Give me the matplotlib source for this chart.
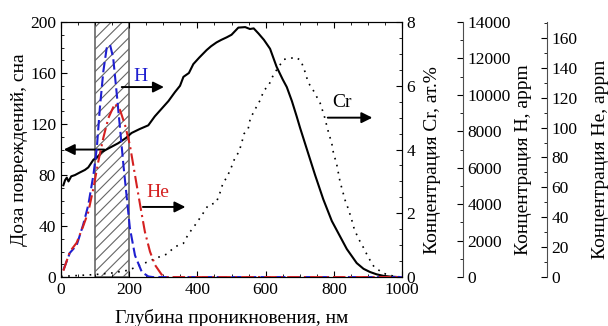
import matplotlib
matplotlib.use("Agg")
import matplotlib.pyplot as plt
from matplotlib.ticker import MultipleLocator

plt.rcParams['font.family'] = ['Liberation Serif', 'DejaVu Serif']
plt.rcParams['font.size'] = 12.5
plt.rcParams['hatch.linewidth'] = 0.8

# доза повреждений (сна), левая ось
x_dose = [7, 12, 17, 22, 30, 41, 55, 70, 80, 95, 110, 119, 140, 168, 190, 207, 230, 256,
          275, 295, 315, 334, 349, 359, 375, 388, 405, 427, 440, 456, 470, 486, 500, 520,
          540, 554, 565, 579, 595, 613, 632, 650, 662, 677, 691, 701, 720, 745, 769, 794,
          818, 838, 867, 887, 906, 925, 945, 965, 990]
dose = [72, 76, 78, 75, 79, 80, 82, 84, 86, 92, 95, 98, 101, 105, 109, 113, 116, 119,
        126, 132, 138, 145, 150, 157, 160, 167, 172, 178, 181, 184, 186, 188, 190, 195.6,
        196, 194.5, 195, 191, 186, 179, 165, 155, 149, 138, 126, 117, 101, 80, 61, 44,
        32, 22, 11, 6.5, 4, 2.2, 1, 0.4, 0]

# концентрация Cr, ат.%
x_cr = [0, 50, 100, 150, 200, 232, 259, 285, 310, 334, 359, 373, 393, 413, 432, 455, 466,
        475, 487, 500, 510, 522, 530, 537, 549, 555, 569, 585, 595, 608, 620, 635, 654,
        671, 686, 703, 715, 725, 740, 760, 772, 784, 794, 799, 808, 818, 833, 843, 852,
        860, 872, 887, 901, 918, 945, 975, 1000]
cr = [0.02, 0.05, 0.08, 0.13, 0.22, 0.38, 0.5, 0.62, 0.72, 0.95, 1.06, 1.34, 1.63, 1.94,
      2.26, 2.33, 2.64, 2.95, 3.14, 3.46, 3.74, 3.93, 4.22, 4.5, 4.66, 4.97, 5.26, 5.57,
      5.86, 5.99, 6.28, 6.55, 6.83, 6.85, 6.9, 6.8, 6.45, 6.1, 5.85, 5.45, 5.05, 4.55,
      4.19, 3.88, 3.56, 3.0, 2.41, 2.12, 1.81, 1.5, 1.21, 0.92, 0.62, 0.32, 0.12, 0.03, 0]

# концентрация H, appm
x_h = [7, 26, 46, 65, 80, 95, 105, 114, 124, 134, 144, 153, 163, 173, 183, 193, 202, 217,
       237, 256, 270, 1000]
conc_h = [385, 1330, 1750, 2870, 3950, 5600, 7070, 9280, 11270, 12570, 12740, 12040,
          10150, 8190, 6160, 4340, 2690, 1190, 280, 35, 0, 0]

# концентрация He, appm
x_he = [7, 26, 46, 65, 80, 95, 109, 124, 139, 158, 173, 188, 202, 217, 232, 246, 261, 276,
        295, 310, 1000]
conc_he = [4.3, 17, 23, 34, 43.5, 59.3, 76.8, 93, 106.4, 116, 111.8, 101.5, 88.3, 68.2,
           48.2, 30.3, 17, 8, 1.7, 0, 0]

blue = '#1f1fd0'
red = '#d42020'
lab_fs = 14

fig = plt.figure(figsize=(6.08, 3.26), dpi=100)
ax = fig.add_axes([0.1003, 0.150, 0.561, 0.7825])

# заштрихованная область 100-200 нм
ax.axvspan(100, 200, facecolor='white', hatch='///', edgecolor='0.4', lw=1.2, zorder=1)

ax.plot(x_dose, dose, color='k', lw=1.5, zorder=3)
ax.set_xlim(0, 1000)
ax.set_ylim(0, 200)
ax.xaxis.set_major_locator(MultipleLocator(200))
ax.xaxis.set_minor_locator(MultipleLocator(50))
ax.yaxis.set_major_locator(MultipleLocator(40))
ax.yaxis.set_minor_locator(MultipleLocator(10))
ax.tick_params(which='both', direction='in', top=True)
ax.tick_params(which='major', length=4)
ax.tick_params(which='minor', length=2.5)
ax.set_xlabel('Глубина проникновения, нм', fontsize=lab_fs)
ax.set_ylabel('Доза повреждений, сна', fontsize=lab_fs)
ax.xaxis.set_label_coords(0.5, -0.125)
ax.yaxis.set_label_coords(-0.097, 0.5)

# ось Cr
ax_cr = ax.twinx()
ax_cr.plot(x_cr, cr, color='k', lw=1.2, linestyle=(0, (1, 3.3)))
ax_cr.set_ylim(0, 8)
ax_cr.yaxis.set_major_locator(MultipleLocator(2))
ax_cr.yaxis.set_minor_locator(MultipleLocator(0.5))
ax_cr.tick_params(which='both', direction='in', pad=3)
ax_cr.tick_params(which='major', length=4)
ax_cr.tick_params(which='minor', length=2.5)
ax_cr.set_ylabel('Концентрация Cr, ат.%', fontsize=lab_fs)
ax_cr.yaxis.set_label_coords(1.065, 0.46)

# ось H
ax_h = ax.twinx()
ax_h.plot(x_h, conc_h, color=blue, lw=1.5, linestyle=(0, (5, 2)))
ax_h.set_ylim(0, 14000)
ax_h.spines['right'].set_position(('axes', 1.179))
ax_h.yaxis.set_major_locator(MultipleLocator(2000))
ax_h.yaxis.set_minor_locator(MultipleLocator(1000))
ax_h.tick_params(which='both', direction='in', pad=3)
ax_h.tick_params(which='major', length=4)
ax_h.tick_params(which='minor', length=2.5)
ax_h.set_ylabel('Концентрация H, appm', fontsize=lab_fs)
ax_h.yaxis.set_label_coords(1.331, 0.46)

# ось He
ax_he = ax.twinx()
ax_he.plot(x_he, conc_he, color=red, lw=1.5, linestyle=(0, (6, 2, 1, 2)))
ax_he.set_ylim(0, 170.6)
ax_he.spines['right'].set_position(('axes', 1.425))
ax_he.yaxis.set_major_locator(MultipleLocator(20))
ax_he.yaxis.set_minor_locator(MultipleLocator(10))
ax_he.tick_params(which='both', direction='in', pad=3)
ax_he.tick_params(which='major', length=4)
ax_he.tick_params(which='minor', length=2.5)
ax_he.set_ylabel('Концентрация He, appm', fontsize=lab_fs)
ax_he.yaxis.set_label_coords(1.557, 0.46)

for a in (ax_h, ax_he):
    for s in ('top', 'bottom', 'left'):
        a.spines[s].set_visible(False)
    a.spines['right'].set_color('0.3')

# стрелки и подписи
arr = dict(arrowstyle='-|>', color='k', lw=1.4, mutation_scale=16)
ax.annotate('', xy=(0, 100), xytext=(135, 100), arrowprops=arr, zorder=5)
ax.annotate('', xy=(310, 149), xytext=(170, 149), arrowprops=arr, zorder=5)
ax.annotate('', xy=(373, 55), xytext=(232, 55), arrowprops=arr, zorder=5)
ax.annotate('', xy=(921, 125), xytext=(774, 125), arrowprops=arr, zorder=5)
ax_he.text(232, 157 * 170.6 / 200, 'H', color=blue, ha='center', va='center', fontsize=14)
ax_he.text(285, 66 * 170.6 / 200, 'He', color=red, ha='center', va='center', fontsize=14)
ax_he.text(823, 137 * 170.6 / 200, 'Cr', color='k', ha='center', va='center', fontsize=14)

fig.savefig('out.png', dpi=100)
